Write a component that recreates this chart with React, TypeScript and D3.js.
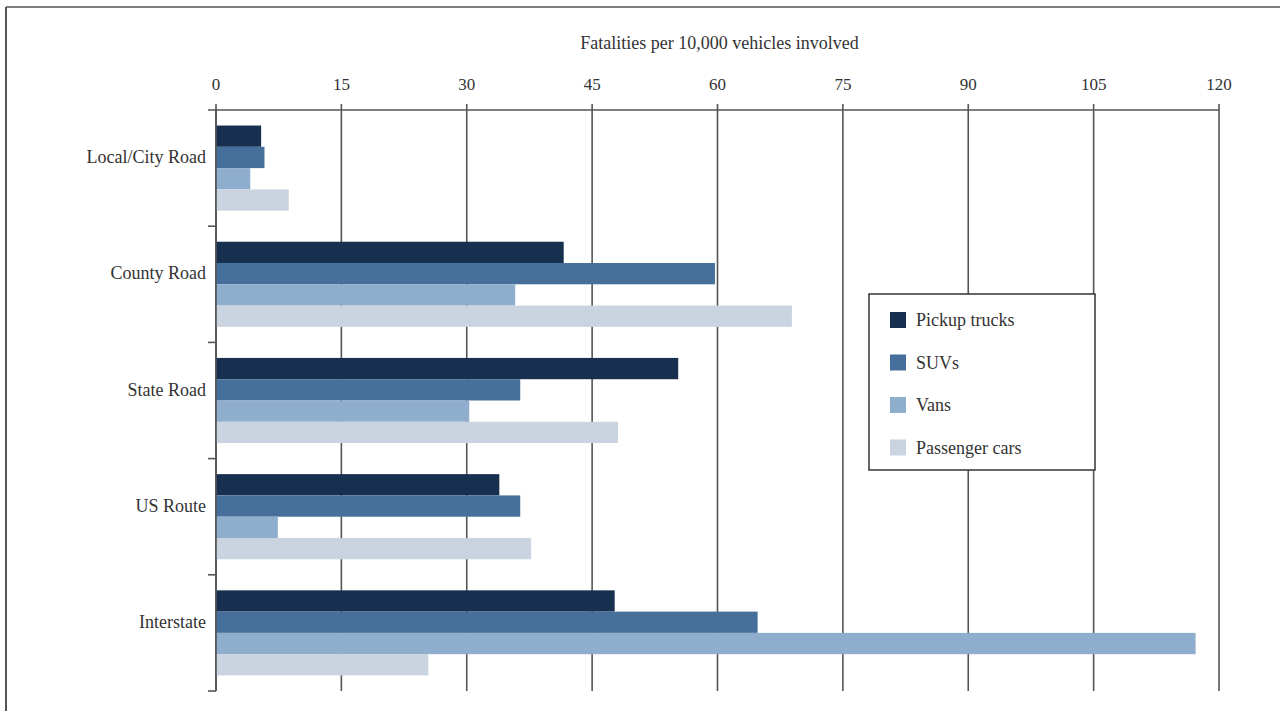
import React from "react";
import * as d3 from "d3";

const categories = ["Local/City Road", "County Road", "State Road", "US Route", "Interstate"];
const seriesNames = ["Pickup trucks", "SUVs", "Vans", "Passenger cars"];
const pickupTrucks = [5.4, 41.6, 55.3, 33.9, 47.7];
const suvs = [5.8, 59.7, 36.4, 36.4, 64.8];
const vans = [4.1, 35.8, 30.3, 7.4, 117.2];
const passengerCars = [8.7, 68.9, 48.1, 37.7, 25.4];
const xTicks = [0, 15, 30, 45, 60, 75, 90, 105, 120];
const colors = ["#17304f", "#46709b", "#8fadcc", "#c9d4e0"];

const W = 1280, H = 711;
const FONT = "'Liberation Serif', 'DejaVu Serif', serif";

export default function App() {
  const series = [pickupTrucks, suvs, vans, passengerCars];
  const x = d3.scaleLinear().domain([0, 120]).range([216, 1219]);
  const y = d3.scaleBand().domain(categories).range([110, 691]).paddingInner(0).paddingOuter(0);
  const inner = d3.scaleBand().domain(seriesNames).range([0, y.bandwidth()]).paddingInner(0).paddingOuter(0.73);
  const top = 110, bottom = 691;

  return (
    <svg width={W} height={H} style={{ position: "absolute", left: 0, top: 0, background: "#fff" }} fontFamily={FONT}>
      <line x1={6} y1={7} x2={W} y2={7} stroke="#555" strokeWidth={1.5} />
      <line x1={6} y1={7} x2={6} y2={H} stroke="#555" strokeWidth={2} />
      <text x={(x(0) + x(120)) / 2 + 2} y={49} textAnchor="middle" fontSize={18} fill="#333">
        Fatalities per 10,000 vehicles involved
      </text>
      {/* grid lines */}
      {xTicks.map((t) => (
        <g key={t}>
          <line x1={x(t)} x2={x(t)} y1={top - 6} y2={bottom} stroke="#555" strokeWidth={1.6} />
          <text x={x(t)} y={90} textAnchor="middle" fontSize={17} fill="#333">{t}</text>
        </g>
      ))}
      {/* bars */}
      {categories.map((c, ci) => (
        <g key={c}>
          {series.map((s, si) => (
            <rect
              key={si}
              x={x(0)}
              y={(y(c) as number) + (inner(seriesNames[si]) as number)}
              width={x(s[ci]) - x(0)}
              height={inner.bandwidth()}
              fill={colors[si]}
            />
          ))}
          <text x={206} y={(y(c) as number) + y.bandwidth() / 2 - 5} textAnchor="end" fontSize={18} fill="#333">{c}</text>
        </g>
      ))}
      {/* top axis line */}
      <line x1={x(0) - 8} x2={x(120)} y1={top} y2={top} stroke="#555" strokeWidth={1.6} />
      {/* y axis */}
      <line x1={x(0)} x2={x(0)} y1={top} y2={bottom} stroke="#555" strokeWidth={1.6} />
      {categories.map((c, ci) => (
        <line key={"t" + ci} x1={x(0) - 8} x2={x(0)} y1={(y(c) as number) + y.bandwidth()} y2={(y(c) as number) + y.bandwidth()} stroke="#555" strokeWidth={1.6} />
      ))}
      {/* legend */}
      <rect x={869} y={294} width={226} height={176} fill="#fff" stroke="#333" strokeWidth={1.5} />
      {seriesNames.map((n, i) => (
        <g key={n}>
          <rect x={890} y={312 + i * 42.5} width={16} height={16} fill={colors[i]} />
          <text x={916} y={326 + i * 42.5} fontSize={18} fill="#333">{n}</text>
        </g>
      ))}
    </svg>
  );
}
